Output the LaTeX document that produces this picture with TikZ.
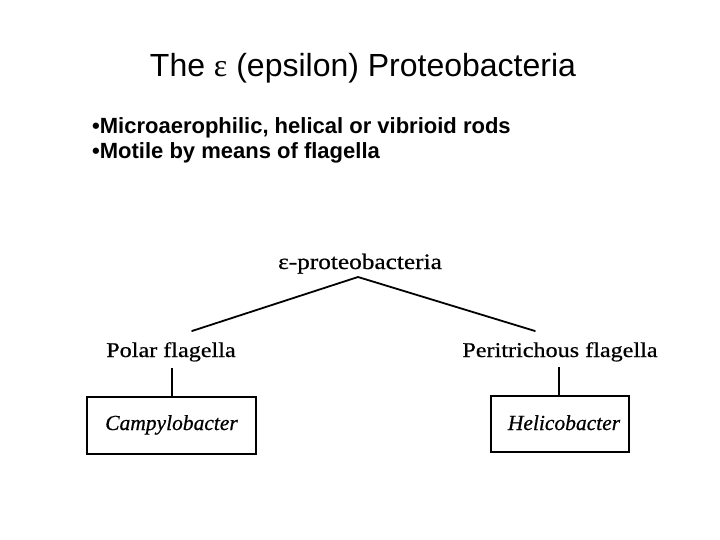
\documentclass[tikz,border=0pt]{standalone}
\usepackage{fontspec}
\setmainfont{Liberation Sans}
\newfontfamily\symfont{Liberation Serif}
\newfontfamily\diagfont[FakeStretch=1.15,FakeBold=0.6]{Liberation Serif}
\newfontfamily\diagitfont[FakeBold=0.6]{Liberation Serif Italic}
\begin{document}
\begin{tikzpicture}[x=1pt,y=-1pt,
  titletext/.style={inner sep=0pt,anchor=base,font=\fontsize{32}{38}\selectfont},
  bullettext/.style={inner sep=0pt,anchor=base west,font=\fontsize{22}{26}\selectfont\bfseries},
  treelabel/.style={inner sep=0pt,anchor=base,font=\diagfont\fontsize{21}{25}\selectfont},
  rootlabel/.style={inner sep=0pt,anchor=base,font=\diagfont\fontsize{22}{26}\selectfont},
  genusbox/.style={draw,line width=1.4pt,inner sep=0pt},
  genustext/.style={inner sep=0pt,anchor=base,font=\diagitfont\fontsize{21.5}{25}\selectfont},
  treeline/.style={line width=1.8pt,line cap=round},
  stemline/.style={line width=1.4pt}]
\useasboundingbox (0,0) rectangle (720,540);
\fill[white] (0,0) rectangle (720,540);

\node[titletext] (title) at (363,77) {The {\symfont ε} (epsilon) Proteobacteria};
\node[bullettext] (b1) at (92,134) {•Microaerophilic, helical or vibrioid rods};
\node[bullettext] (b2) at (92,159) {•Motile by means of flagella};

\node[rootlabel] (root) at (360,269) {ε-proteobacteria};
\node[treelabel] (polar) at (171,357) {Polar flagella};
\node[treelabel] (peri) at (560,357) {Peritrichous flagella};

\node[genusbox,minimum width=169pt,minimum height=57pt] (campy) at (171.5,425.5) {};
\node[genustext] (campytext) at (campy.center |- 0,430) {Campylobacter};
\node[genusbox,minimum width=138pt,minimum height=56pt] (heli) at (560,424) {};
\node[genustext] (helitext) at (564,430) {Helicobacter};

\coordinate (apex) at (358,277);
\coordinate (lend) at (192,331);
\coordinate (rend) at (535,331);
\draw[treeline] (lend) -- (apex) -- (rend);

\coordinate (pstem) at (172,368);
\coordinate (rstem) at (559,367);
\draw[stemline] (pstem) -- (pstem |- campy.north);
\draw[stemline] (rstem) -- (rstem |- heli.north);
\end{tikzpicture}
\end{document}
